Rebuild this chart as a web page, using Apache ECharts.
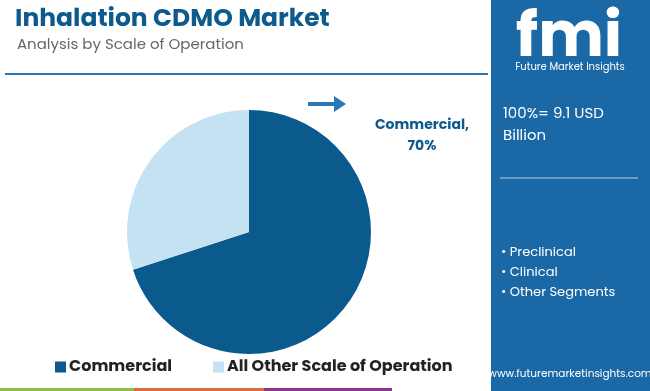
<!DOCTYPE html>
<html><head><meta charset="utf-8">
<script src="https://cdn.jsdelivr.net/npm/echarts@6/dist/echarts.min.js"></script>
<style>html,body{margin:0;padding:0;background:#fff}#c{width:650px;height:391px}</style>
</head><body><div id="c"></div>
<script>
const categories = ['Commercial', 'All Other Scale of Operation'];
const shares = [70, 30];
const colors = ['#0b5a8e', '#c5e2f3'];
const totalText = '100%= 9.1 USD\nBillion';
const otherSegments = ['Preclinical', 'Clinical', 'Other Segments'];

const chart = echarts.init(document.getElementById('c'));
const F = 'Poppins, "Open Sans", Lato, sans-serif';
chart.setOption({
  animation: false,
  color: colors,
  title: [
    {text: 'Inhalation CDMO Market', left: 10, top: 2,
     textStyle: {fontFamily: F, fontWeight: 'bold', fontSize: 25, color: '#0d5a8c'}},
    {text: 'Analysis by Scale of Operation', left: 12, top: 33,
     textStyle: {fontFamily: F, fontWeight: 'normal', fontSize: 15, color: '#666'}}
  ],
  legend: {
    left: 50, top: 354, itemWidth: 11, itemHeight: 11, itemGap: 41, icon: 'rect',
    textStyle: {fontFamily: F, fontWeight: 'bold', fontSize: 16, color: '#222', padding: [0, 0, 0, -2]},
    data: categories
  },
  series: [{
    type: 'pie', center: [249, 232], radius: 122, startAngle: 90, clockwise: true,
    label: {show: false}, labelLine: {show: false},
    data: categories.map((c, i) => ({name: c, value: shares[i]}))
  }],
  graphic: [
    {type: 'line', shape: {x1: 5, y1: 74, x2: 488, y2: 74}, style: {stroke: '#2a77b0', lineWidth: 2}},
    {type: 'line', shape: {x1: 308, y1: 104, x2: 336, y2: 104}, style: {stroke: '#2a78b6', lineWidth: 4}},
    {type: 'polygon', shape: {points: [[334, 96], [346, 104], [334, 112]]}, style: {fill: '#2a78b6'}},
    {type: 'text', x: 422, y: 115, style: {text: categories[0] + ',\n' + shares[0] + '%', align: 'center',
      fontFamily: F, fontWeight: 'bold', fontSize: 14, lineHeight: 21, fill: '#0d5a8c'}},
    {type: 'rect', shape: {x: 491, y: 0, width: 159, height: 391}, style: {fill: '#1b68a6'}},
    {type: 'text', x: 569, y: 40, style: {text: 'fmi', align: 'center', verticalAlign: 'middle',
      fontFamily: F, fontWeight: 'bold', fontSize: 62, fill: '#fff'}},
    {type: 'text', x: 570, y: 67, style: {text: 'Future Market Insights', align: 'center', verticalAlign: 'middle',
      fontFamily: F, fontSize: 10, fill: '#fff'}},
    {type: 'text', x: 503, y: 103, style: {text: totalText, fontFamily: F, fontSize: 15, lineHeight: 22, fill: '#fff'}},
    {type: 'line', shape: {x1: 500, y1: 178, x2: 638, y2: 178}, style: {stroke: '#b9cfe2', lineWidth: 1}},
    {type: 'text', x: 501, y: 243, style: {text: otherSegments.map(s => '• ' + s).join('\n'),
      fontFamily: F, fontSize: 13, lineHeight: 20, fill: '#fff'}},
    {type: 'text', x: 570, y: 374, style: {text: 'www.futuremarketinsights.com', align: 'center', verticalAlign: 'middle',
      fontFamily: F, fontSize: 10.5, fill: '#fff'}},
    {type: 'rect', shape: {x: 0, y: 388, width: 134, height: 3}, style: {fill: '#8cbf4a'}},
    {type: 'rect', shape: {x: 134, y: 388, width: 130, height: 3}, style: {fill: '#e0683a'}},
    {type: 'rect', shape: {x: 264, y: 388, width: 128, height: 3}, style: {fill: '#8a3a8c'}}
  ]
});
</script></body></html>
